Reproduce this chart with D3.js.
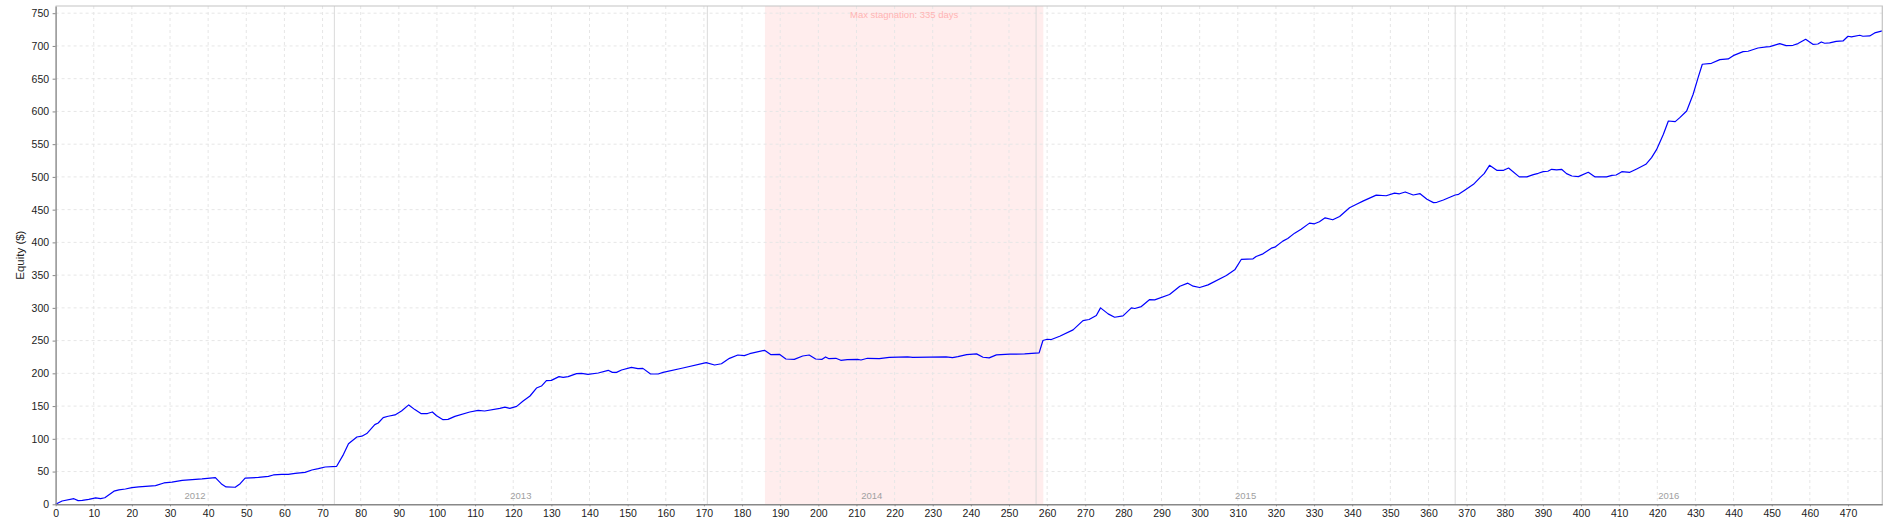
<!DOCTYPE html>
<html>
<head>
<meta charset="utf-8">
<script src="https://cdn.jsdelivr.net/npm/d3@7"></script>
<style>
  html, body { margin: 0; padding: 0; background: #fff; }
  svg { display: block; }
</style>
</head>
<body>
<svg id="chart" width="1890" height="525"></svg>
<script>
// ---- data ----
const tradeNo = [0,1.7,4.8,5.9,7,8.7,10.5,11.8,12.9,15.3,16.6,18.3,20,21.8,23.6,26.2,28.4,30.5,33.2,35.8,38.4,41.9,43.6,44.7,47.1,48.4,49.7,53.2,55.8,57.1,59.3,61,62.8,65.4,67.2,68.9,70.7,73.7,75.5,76.8,79,80.3,81.6,83.7,84.6,85.9,87.2,89,90.7,92.6,94.2,95.8,97.5,98.8,99.9,101.6,102.9,104.7,108.6,110.8,112.5,116.5,117.8,119.1,120.9,122.6,124.4,126.1,127.4,128.7,130,132,133.1,134.4,136.6,137.9,139.6,142.3,144.9,146,147.1,148.4,151,152.7,154,156,158,159.3,164.5,170.6,172.8,174.6,176.7,178.9,180.6,182,185.9,187.6,189.8,191.5,193.7,195.9,197.6,199.3,201,201.9,202.8,204.6,205.9,207.6,210.3,211.2,212.9,216,218.6,223.4,224.8,233.5,235.2,236.6,238.9,241.5,243.2,244.8,246.7,250.2,254.1,257.9,258.9,260,261.1,263.3,266.8,269.4,271,272.9,274,276,277.7,279.9,282.1,283,284.7,286.9,288.2,292.1,294.8,296.9,298.3,300,302.2,307,309.2,310.9,314,314.8,316.6,318.8,319.7,321.8,323.1,324.9,326.6,328.8,330.1,331.4,332.9,334.9,336.7,339.3,341,342.8,346.3,348.9,351.1,352.4,353.9,356,357.8,359.6,361.3,362.2,363.9,367,367.9,369.6,371.8,373.5,374.6,376,377.9,379.7,381,383.8,385.8,387.5,388.8,390.1,391.3,392.3,393.6,394.9,396.2,397.6,399.3,401.9,403.7,406.7,408.1,409.2,410.7,412.8,414.6,417,418.5,419.8,421.6,422.9,424.7,425.9,427.7,429.4,430.7,431.8,434.2,436.4,438.6,439.9,442.5,443.8,446.4,448.6,449.5,452.1,453.8,455.6,456.9,458.9,460.8,462.1,463,463.9,465.2,466.9,468.7,470,470.9,473.1,473.9,475.7,477,479];
const equity = [0,5,8.6,5.6,6,7.6,9.7,8.6,10,20,22,23.4,25.4,26.5,27.5,28.5,32.6,34,36.6,37.6,38.7,40.7,30.5,26.5,26,31.5,40,41,42.7,44.8,45.8,45.8,47.3,48.8,52.4,54.4,57,58,76.3,92.6,102.8,104,108,121.7,124.2,132.4,134.5,136.5,142.6,151.8,144.6,138.6,138.6,141,135.3,129.2,129.7,134.3,141,143.5,142.5,146.5,148.5,146.5,149.6,157.7,165.4,177.6,180.6,188.8,189.3,195,193.9,195,199.5,200,198.5,200.5,204.6,201.5,201.5,205.1,209.2,207.1,207.6,199,199,201.5,208.1,216.3,212.7,214.7,222.9,228,227,230,235.1,228.5,229,221.9,221.4,226.5,228,221.9,221.4,225,222.4,223,219.9,220.9,221.4,220.4,223,222.4,224.5,225,224.5,225,224,225.5,228.7,229.7,224.6,223.6,228.2,229.2,229.7,231.2,250.1,252.1,251.6,256.7,266.4,280.6,282.2,288.3,300,290.8,285.7,287.8,300,299,302,312.7,312.2,320.4,333.1,337.7,333.1,331.1,335.1,349.4,358.1,373.9,374.9,378.4,382.5,391.2,392.7,401.9,406,414.1,420.2,429.4,428.4,431.5,437.5,434.5,439.6,452.8,457.9,463,472.2,471.2,475.2,474.2,477,472.4,474.4,465.8,460.7,461.2,464.8,472.4,473.4,480,488.7,498.9,505,517.7,510.1,510.1,513.6,500,500,503.5,505.5,508,508.6,511.6,510.6,511.6,505,501.4,500.4,507,500,500,502.4,502.9,508,507,512.1,519.2,529.4,541.6,565.1,585.4,584.4,590.5,600.7,626.2,651.6,672,673.5,679.1,680.1,685.2,691.3,691.9,696.9,698.5,699,703.6,700.5,701,703.6,710.2,702.5,703,706.1,704.1,704.6,707.1,707.6,714.8,713.8,716.3,714.8,715.3,719.9,723];
const yearBounds = [0, 73.1, 170.9, 257.1, 367.0, 479];
const yearLabels = ["2012", "2013", "2014", "2015", "2016"];
const stagnation = [186.0, 259.0];
const stagnationLabel = "Max stagnation: 335 days";
const xTicks = d3.range(0, 471, 10);
const yTicks = d3.range(0, 751, 50);
const yTitle = "Equity ($)";

// ---- layout ----
const L = 55.6, R = 1882.3, T = 6, B = 504.3;
const font = "'Liberation Sans', Arial, sans-serif";
const svg = d3.select("#chart");
svg.append("rect").attr("width", 1890).attr("height", 525).attr("fill", "#fff");

const x = d3.scaleLinear().domain([0, 479]).range([L, R]);
const y = d3.scaleLinear().domain([0, 761]).range([B, T]);

// stagnation band
svg.append("rect")
  .attr("x", x(stagnation[0])).attr("y", T)
  .attr("width", x(stagnation[1]) - x(stagnation[0])).attr("height", B - T)
  .attr("fill", "#ffeded");

// grid
const grid = svg.append("g").attr("stroke", "#e6e6e6").attr("stroke-dasharray", "3,3").attr("stroke-width", 1);
xTicks.filter(d => d > 0).forEach(d => {
  grid.append("line").attr("x1", x(d)).attr("x2", x(d)).attr("y1", T).attr("y2", B);
});
yTicks.filter(d => d > 0).forEach(d => {
  grid.append("line").attr("x1", L).attr("x2", R).attr("y1", y(d)).attr("y2", y(d));
});

// year boundaries
yearBounds.slice(1, -1).forEach(d => {
  svg.append("line").attr("x1", x(d)).attr("x2", x(d)).attr("y1", T).attr("y2", B)
    .attr("stroke", "#dadada").attr("stroke-width", 1);
});

// year labels
yearLabels.forEach((lab, i) => {
  svg.append("text")
    .attr("x", x((yearBounds[i] + yearBounds[i + 1]) / 2)).attr("y", 499)
    .attr("text-anchor", "middle").attr("font-family", font).attr("font-size", "9.5px")
    .attr("fill", "#a0a0a0").text(lab);
});

// stagnation label
svg.append("text")
  .attr("x", x((stagnation[0] + stagnation[1]) / 2)).attr("y", 17.5)
  .attr("text-anchor", "middle").attr("font-family", font).attr("font-size", "9.5px")
  .attr("fill", "#ffb4b4").text(stagnationLabel);

// equity line
const pts = tradeNo.map((t, i) => [t, equity[i]]);
svg.append("path").datum(pts)
  .attr("fill", "none").attr("stroke", "#0000ff").attr("stroke-width", 1.2)
  .attr("stroke-linejoin", "round")
  .attr("d", d3.line().x(d => x(d[0])).y(d => y(d[1])));

// border top/right
svg.append("path").attr("d", `M${L},${T}H${R}V${B}`).attr("fill", "none")
  .attr("stroke", "#c4c4c4").attr("stroke-width", 1.2);

// axes
const xAxis = svg.append("g").attr("transform", `translate(0,${B})`)
  .call(d3.axisBottom(x).tickValues(xTicks).tickSize(2).tickPadding(3).tickSizeOuter(0));
const yAxis = svg.append("g").attr("transform", `translate(${L},0)`)
  .call(d3.axisLeft(y).tickValues(yTicks).tickSize(3).tickPadding(3.5).tickSizeOuter(0));
[xAxis, yAxis].forEach(g => {
  g.select(".domain").attr("stroke", "#888").attr("stroke-width", 1.4);
  g.selectAll(".tick line").attr("stroke", "#888");
  g.selectAll(".tick text").attr("font-family", font).attr("font-size", "10.5px").attr("fill", "#222");
});

// y title
svg.append("text")
  .attr("transform", `translate(24,${(T + B) / 2}) rotate(-90)`)
  .attr("text-anchor", "middle").attr("font-family", font).attr("font-size", "11.5px")
  .attr("fill", "#222").text(yTitle);
</script>
</body>
</html>
